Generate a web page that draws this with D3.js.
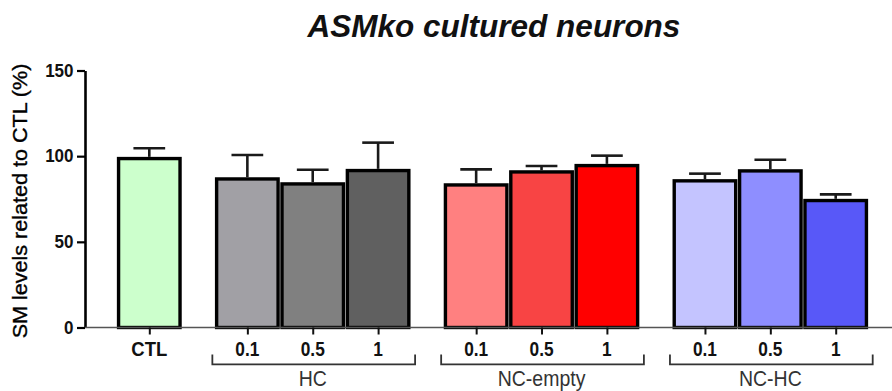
<!DOCTYPE html>
<html>
<head>
<meta charset="utf-8">
<script src="https://cdn.jsdelivr.net/npm/d3@7"></script>
<style>
  html, body { margin: 0; padding: 0; background: #fff; }
  svg { display: block; font-family: "Liberation Sans", Arial, sans-serif; }
</style>
</head>
<body>
<svg id="chart" width="892" height="391"></svg>
<script>
// ---- data ----
const title = "ASMko cultured neurons";
const yTitle = "SM levels related to CTL (%)";
const groups = ["", "HC", "NC-empty", "NC-HC"];
const barLabels = ["CTL", "0.1", "0.5", "1", "0.1", "0.5", "1", "0.1", "0.5", "1"];
const barGroup = [0, 1, 1, 1, 2, 2, 2, 3, 3, 3];
const values = [98.6, 86.7, 83.8, 91.6, 83.2, 90.8, 94.5, 85.6, 91.4, 74.1];
const errors = [6.0, 14.0, 8.3, 16.3, 9.1, 3.5, 5.8, 4.2, 6.5, 3.6];
const colors = ["#ccffcc", "#a1a0a5", "#808080", "#606060", "#ff8080", "#f84444", "#ff0000", "#c4c4ff", "#8e8eff", "#5858f8"];
const yTicks = [0, 50, 100, 150];

// ---- layout ----
const svg = d3.select("#chart");
const W = 892;

// slot index: group 0 at 0, then groups of 3 separated by a half-slot gap
const slot = [];
{
  let cursor = 0, prevG = barGroup[0];
  barGroup.forEach((g, i) => {
    if (i > 0) cursor += (g !== prevG) ? 1.5 : 1;
    slot.push(cursor);
    prevG = g;
  });
}

const x = d3.scaleLinear().domain([0, d3.max(slot)]).range([149.3, 835.7]);
const y = d3.scaleLinear().domain([0, 150]).range([327.5, 70.5]);
const step = x(1) - x(0);
const barStroke = 3.4;
const barW = step - barStroke - 0.5;

// Title
svg.append("text")
  .attr("x", 494).attr("y", 36.7)
  .attr("text-anchor", "middle")
  .attr("font-size", 31.5)
  .attr("font-weight", "bold")
  .attr("font-style", "italic")
  .attr("fill", "#111")
  .text(title);

// Y title
svg.append("text")
  .attr("transform", `translate(27.3,${(y(0) + y(150)) / 2 + 2}) rotate(-90) scale(1.1,1)`)
  .attr("text-anchor", "middle")
  .attr("font-size", 19.6)
  .attr("fill", "#000")
  .attr("stroke", "#000")
  .attr("stroke-width", 0.35)
  .text(yTitle);

// Bars
const bars = svg.append("g");
values.forEach((v, i) => {
  bars.append("rect")
    .attr("x", x(slot[i]) - barW / 2)
    .attr("y", y(v))
    .attr("width", barW)
    .attr("height", y(0) - y(v))
    .attr("fill", colors[i])
    .attr("stroke", "#000")
    .attr("stroke-width", barStroke);
});

// Error bars (upper only)
const eb = svg.append("g").attr("stroke", "#1a1a1a").attr("stroke-width", 2.6);
values.forEach((v, i) => {
  const cx = x(slot[i]);
  eb.append("line")
    .attr("x1", cx).attr("x2", cx)
    .attr("y1", y(v) - barStroke / 2).attr("y2", y(v + errors[i]));
  eb.append("line")
    .attr("x1", cx - barW / 4 - 0.5).attr("x2", cx + barW / 4 + 0.5)
    .attr("y1", y(v + errors[i])).attr("y2", y(v + errors[i]));
});

// Y axis
const yAxis = d3.axisLeft(y).tickValues(yTicks).tickSize(8).tickSizeOuter(0).tickFormat("");
const yg = svg.append("g").attr("transform", "translate(85,0)").call(yAxis);
yg.select(".domain").attr("stroke", "#000").attr("stroke-width", 2.6);
yg.selectAll(".tick line").attr("stroke", "#000").attr("stroke-width", 2.2);
yTicks.forEach(t => {
  svg.append("text")
    .attr("transform", `translate(73.5,${y(t) + 6.2}) scale(1,1.1)`)
    .attr("text-anchor", "end")
    .attr("font-size", 17)
    .attr("font-weight", "bold")
    .attr("fill", "#111")
    .text(t);
});

// X axis
svg.append("line")
  .attr("x1", 85).attr("x2", W)
  .attr("y1", y(0)).attr("y2", y(0))
  .attr("stroke", "#555").attr("stroke-width", 1.6);
const xAxis = d3.axisBottom(x).tickValues(slot).tickSize(7).tickSizeOuter(0).tickFormat("");
const xg = svg.append("g").attr("transform", `translate(0,${y(0)})`).call(xAxis);
xg.select(".domain").remove();
xg.selectAll(".tick line").attr("stroke", "#111").attr("stroke-width", 2);

// Bar labels
barLabels.forEach((lab, i) => {
  svg.append("text")
    .attr("transform", `translate(${x(slot[i])},355.5) scale(1,1.13)`)
    .attr("text-anchor", "middle")
    .attr("font-size", lab === "CTL" ? 18.5 : 17.3)
    .attr("font-weight", "bold")
    .attr("fill", "#111")
    .text(lab);
});

// Group brackets + labels
const br = svg.append("g").attr("stroke", "#333").attr("stroke-width", 1.8).attr("fill", "none");
groups.forEach((g, gi) => {
  if (!g) return;
  const idx = barGroup.map((bg, i) => bg === gi ? i : -1).filter(i => i >= 0);
  const x0 = x(slot[idx[0]]) - 35;
  const x1 = x(slot[idx[idx.length - 1]]) + 37;
  br.append("path")
    .attr("d", `M${x0},354.5 V364.3 H${x1} V354.5`);
  const mid = x(slot[idx[Math.floor(idx.length / 2)]]);
  svg.append("text")
    .attr("transform", `translate(${mid},386) scale(1,1.1)`)
    .attr("text-anchor", "middle")
    .attr("font-size", 19.5)
    .attr("fill", "#333")
    .text(g);
});
</script>
</body>
</html>
